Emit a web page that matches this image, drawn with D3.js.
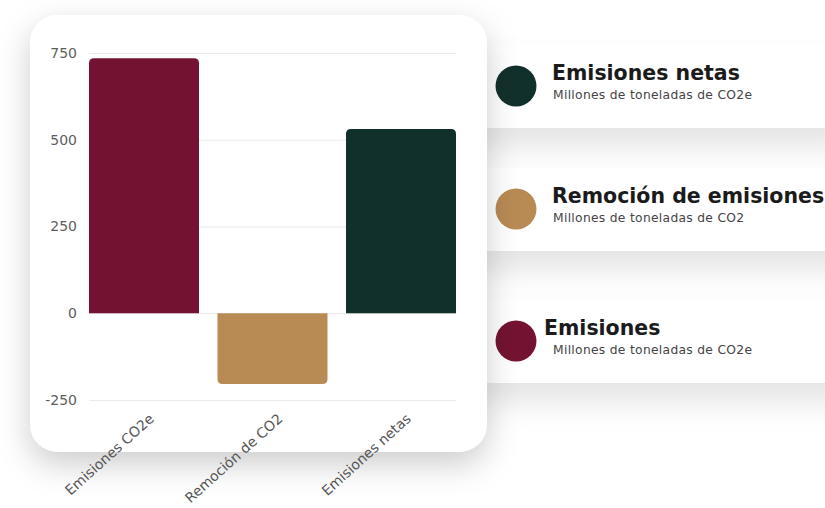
<!DOCTYPE html>
<html>
<head>
<meta charset="utf-8">
<script src="https://cdn.jsdelivr.net/npm/d3@7"></script>
<style>
  body { margin: 0; background: #ffffff; }
  svg { display: block; }
</style>
</head>
<body>
<div id="container"></div>
<script>
// chart data
const categories = ["Emisiones CO2e", "Remoción de CO2", "Emisiones netas"];
const values = [735, -204, 531];
const barColors = ["#731331", "#B88A54", "#12302B"];
const yTicks = [-250, 0, 250, 500, 750];

// legend data
const legendTitles = ["Emisiones netas", "Remoción de emisiones", "Emisiones"];
const legendSubtitles = ["Millones de toneladas de CO2e", "Millones de toneladas de CO2", "Millones de toneladas de CO2e"];
const legendColors = ["#12302B", "#B88A54", "#731331"];

const width = 825, height = 508;
const font = "'DejaVu Sans', sans-serif";

const svg = d3.select('#container').append('svg')
  .attr('width', width)
  .attr('height', height);

const defs = svg.append('defs');
const cardShadow = defs.append('filter').attr('id', 'cardShadow')
  .attr('x', '-20%').attr('y', '-20%').attr('width', '140%').attr('height', '140%');
cardShadow.append('feDropShadow')
  .attr('dx', 0).attr('dy', 12).attr('stdDeviation', 16)
  .attr('flood-color', '#000').attr('flood-opacity', 0.2);

const stripShadow = defs.append('filter').attr('id', 'stripShadow')
  .attr('x', '-20%').attr('y', '-30%').attr('width', '140%').attr('height', '190%');
stripShadow.append('feDropShadow')
  .attr('dx', 0).attr('dy', 20).attr('stdDeviation', 14)
  .attr('flood-color', '#000').attr('flood-opacity', 0.1);

// legend strips (drawn first so the card sits on top)
const stripTop = [45, 168, 300];
const legend = svg.append('g');
legendTitles.forEach((t, i) => {
  legend.append('rect')
    .attr('x', 470).attr('y', stripTop[i])
    .attr('width', 380).attr('height', 83)
    .attr('fill', '#fff')
    .attr('filter', 'url(#stripShadow)');
});
legendTitles.forEach((t, i) => {
  const y0 = stripTop[i];
  legend.append('circle')
    .attr('cx', 516).attr('cy', y0 + 41)
    .attr('r', 20.5)
    .attr('fill', legendColors[i]);
  legend.append('text')
    .attr('x', i === 2 ? 544 : 552).attr('y', y0 + 35)
    .attr('font-family', font).attr('font-weight', 'bold')
    .attr('font-size', 20.5).attr('fill', '#1b1b1b')
    .text(t);
  legend.append('text')
    .attr('x', 553).attr('y', y0 + 54)
    .attr('font-family', font).attr('font-size', 12.3)
    .attr('letter-spacing', 0.3)
    .attr('fill', '#444')
    .text(legendSubtitles[i]);
});

// chart card
svg.append('rect')
  .attr('x', 30).attr('y', 15)
  .attr('width', 457).attr('height', 437)
  .attr('rx', 28)
  .attr('fill', '#fff')
  .attr('filter', 'url(#cardShadow)');

const x = d3.scaleBand()
  .domain(categories)
  .range([89, 456])
  .paddingInner(0.144)
  .paddingOuter(0);

const y = d3.scaleLinear()
  .domain([-250, 750])
  .range([400, 53]);

// grid + y labels
const yAxis = d3.axisLeft(y)
  .tickValues(yTicks)
  .tickFormat(d => String(d))
  .tickSize(-(x.range()[1] - x.range()[0]))
  .tickPadding(12);
const gy = svg.append('g')
  .attr('transform', `translate(${x.range()[0]},0)`)
  .call(yAxis);
gy.select('.domain').remove();
gy.selectAll('.tick line').attr('stroke', '#e9e9e9');
gy.selectAll('.tick text')
  .attr('font-family', font).attr('font-size', 14)
  .attr('fill', '#5e5e5e');

// bars with rounded far end
const r = 5;
function barPath(d, i) {
  const x0 = x(categories[i]), w = x.bandwidth();
  const y0 = y(0), y1 = y(d);
  const s = d >= 0 ? 1 : -1;
  return `M${x0},${y0} V${y1 + s * r} Q${x0},${y1} ${x0 + r},${y1} H${x0 + w - r} Q${x0 + w},${y1} ${x0 + w},${y1 + s * r} V${y0} Z`;
}
svg.append('g').selectAll('path')
  .data(values)
  .join('path')
  .attr('d', barPath)
  .attr('fill', (d, i) => barColors[i]);

// x labels
const xAxis = d3.axisBottom(x).tickSize(0).tickPadding(0);
const gx = svg.append('g')
  .attr('transform', `translate(0,${y(-250)})`)
  .call(xAxis);
gx.select('.domain').remove();
gx.selectAll('.tick text')
  .attr('font-family', font).attr('font-size', 14)
  .attr('fill', '#555')
  .attr('text-anchor', 'end')
  .attr('dy', null)
  .attr('y', 0)
  .attr('transform', 'translate(11,20) rotate(-42)');
</script>
</body>
</html>
